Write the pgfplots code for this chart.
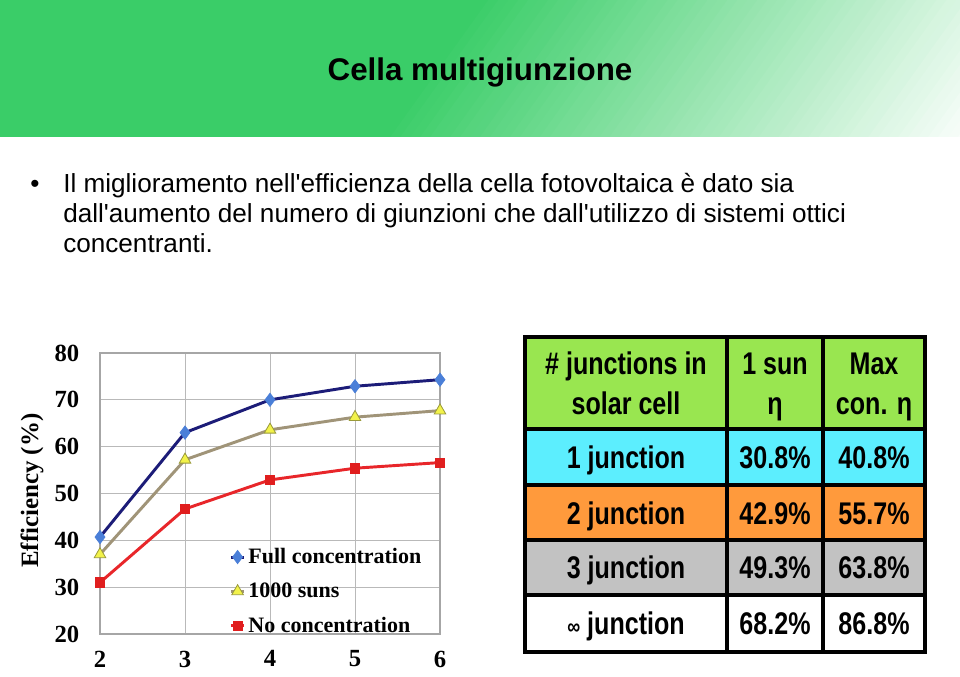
\documentclass[border=0pt]{standalone}
\usepackage{pgfplots}
\pgfplotsset{compat=1.18}
\usepackage{fontspec}
\setmainfont{Liberation Sans}
\newfontfamily\serifb{Liberation Serif}
\newfontfamily\narrow[FakeStretch=0.8]{Liberation Sans}
\definecolor{bannergreen}{HTML}{3ACD68}
\definecolor{navyline}{HTML}{1C1C78}
\definecolor{bluemark}{HTML}{4A7FD8}
\definecolor{tanline}{HTML}{A09478}
\definecolor{yellowmark}{HTML}{F2F24A}
\definecolor{yellowedge}{HTML}{9A9A3A}
\definecolor{redline}{HTML}{E8262A}
\definecolor{redmark}{HTML}{E01E1E}
\definecolor{hdrgreen}{HTML}{99E650}
\definecolor{cyanrow}{HTML}{5CEEFE}
\definecolor{orangerow}{HTML}{FF9A3C}
\definecolor{grayrow}{HTML}{C2C2C2}
\begin{document}
\begin{tikzpicture}
\path[use as bounding box, fill=white] (0pt,0pt) rectangle (720pt,507.75pt);
\begin{scope}[x=0.75pt,y=-0.75pt,shift={(0pt,507.75pt)}]
  % banner with diagonal gradient
  \begin{scope}
    \clip (0,0) rectangle (960,137);
    \fill[bannergreen] (0,0) rectangle (960,137);
    \foreach \i in {0,...,59} {
      \pgfmathsetmacro\sa{389+\i*8.1}
      \pgfmathsetmacro\sb{\sa+9}
      \pgfmathtruncatemacro\pc{100-\i*100/60}
      \pgfmathsetmacro\ax{0.813*\sa+465.6}
      \pgfmathsetmacro\ay{0.582*\sa-650.4}
      \pgfmathsetmacro\bx{0.813*\sa-465.6}
      \pgfmathsetmacro\by{0.582*\sa+650.4}
      \pgfmathsetmacro\cx{0.813*\sb-465.6}
      \pgfmathsetmacro\cy{0.582*\sb+650.4}
      \pgfmathsetmacro\dx{0.813*\sb+465.6}
      \pgfmathsetmacro\dy{0.582*\sb-650.4}
      \fill[bannergreen!\pc!white] (\ax,\ay) -- (\bx,\by) -- (\cx,\cy) -- (\dx,\dy) -- cycle;
    }
    \pgfmathsetmacro\sa{389+60*8.1}
    \pgfmathsetmacro\ax{0.813*\sa+465.6}
    \pgfmathsetmacro\ay{0.582*\sa-650.4}
    \pgfmathsetmacro\bx{0.813*\sa-465.6}
    \pgfmathsetmacro\by{0.582*\sa+650.4}
    \fill[white] (\ax,\ay) -- (\bx,\by) -- (1400,800) -- (1400,-800) -- cycle;
  \end{scope}
  \node[anchor=base, font=\bfseries\fontsize{23.5}{23.5}\selectfont] at (480,81) {Cella multigiunzione};
  % bullets
  \node[anchor=base, font=\fontsize{19.6}{19.6}\selectfont] at (35,193) {•};
  \node[anchor=base west, inner sep=0pt, font=\fontsize{19.6}{19.6}\selectfont] at (63,193) {Il miglioramento nell\textquotesingle efficienza della cella fotovoltaica è dato sia};
  \node[anchor=base west, inner sep=0pt, font=\fontsize{19.6}{19.6}\selectfont] at (63,223) {dall\textquotesingle aumento del numero di giunzioni che dall\textquotesingle utilizzo di sistemi ottici};
  \node[anchor=base west, inner sep=0pt, font=\fontsize{19.6}{19.6}\selectfont] at (63,253) {concentranti.};
  % table
  \fill[hdrgreen] (525,337) rectangle (925,429);
  \fill[cyanrow] (525,429) rectangle (925,485);
  \fill[orangerow] (525,485) rectangle (925,540);
  \fill[grayrow] (525,540) rectangle (925,595);
  \fill[white] (525,595) rectangle (925,652);
  \draw[line width=2.5pt] (525,337) rectangle (925,652);
  \foreach \yy in {429,485,540,595} \draw[line width=2.5pt] (525,\yy) -- (925,\yy);
  \foreach \xx in {727,823} \draw[line width=2.5pt] (\xx,337) -- (\xx,652);
  \tikzset{tt/.style={anchor=base, inner sep=0pt, font=\narrow\bfseries\fontsize{23.5}{23.5}\selectfont}}
  \node[tt] at (626,375) {\# junctions in};
  \node[tt] at (626,415) {solar cell};
  \node[tt] at (775,375) {1 sun};
  \node[tt] at (775,415) {η};
  \node[tt] at (874,375) {Max};
  \node[tt] at (874,415) {con. η};
  \node[tt] at (626,469) {1 junction};
  \node[tt] at (775,469) {30.8\%};
  \node[tt] at (874,469) {40.8\%};
  \node[tt] at (626,525) {2 junction};
  \node[tt] at (775,525) {42.9\%};
  \node[tt] at (874,525) {55.7\%};
  \node[tt] at (626,579) {3 junction};
  \node[tt] at (775,579) {49.3\%};
  \node[tt] at (874,579) {63.8\%};
  \node[tt] at (626,635) {{\fontsize{17}{17}\selectfont ∞} junction};
  \node[tt] at (775,635) {68.2\%};
  \node[tt] at (874,635) {86.8\%};
\end{scope}
\begin{axis}[
  at={(75pt,32.25pt)}, anchor=south west,
  width=255pt, height=210.75pt, scale only axis,
  xmin=2, xmax=6, ymin=20, ymax=80,
  xtick={2,3,4,5,6}, ytick={20,30,...,80},
  grid=major, major grid style={draw=gray!55, line width=0.6pt},
  axis line style={draw=gray!70, line width=0.8pt},
  major tick length=0pt,
  tick label style={font=\serifb\bfseries\fontsize{18.5}{18.5}\selectfont},
  /pgf/number format/assume math mode=true,
  xticklabel style={yshift=-9pt},
  yticklabel style={xshift=-12pt},
  ylabel={Efficiency (\%)},
  ylabel style={font=\serifb\bfseries\fontsize{18.7}{18.7}\selectfont, at={(axis description cs:-0.2,0.51)}, anchor=center},
  legend style={at={(rel axis cs:0.38,0.315)}, anchor=north west, draw=none, fill=none,
    font=\serifb\bfseries\fontsize{16.5}{16.5}\selectfont, row sep=9pt, inner sep=0pt},
  legend cell align=left,
  legend image code/.code={\draw[#1, mark repeat=2, mark phase=2] plot coordinates {(0pt,0pt)(5pt,0pt)(10pt,0pt)};},
]
\addplot[navyline, line width=2.2pt, mark=diamond*, mark size=5pt, mark options={fill=bluemark, draw=bluemark, line width=0.5pt, solid}]
  coordinates {(2,40.7) (3,63.0) (4,70.0) (5,72.9) (6,74.3)};
\addlegendentry{Full concentration}
\addplot[tanline, line width=2.2pt, mark=triangle*, mark size=5pt, mark options={fill=yellowmark, draw=yellowedge, line width=0.6pt, solid}]
  coordinates {(2,37.0) (3,57.2) (4,63.6) (5,66.3) (6,67.7)};
\addlegendentry{1000 suns}
\addplot[redline, line width=2.2pt, mark=square*, mark size=3.5pt, mark options={fill=redmark, draw=redmark, line width=0.5pt, solid}]
  coordinates {(2,31.0) (3,46.7) (4,52.9) (5,55.4) (6,56.6)};
\addlegendentry{No concentration}
\end{axis}
\end{tikzpicture}
\end{document}
